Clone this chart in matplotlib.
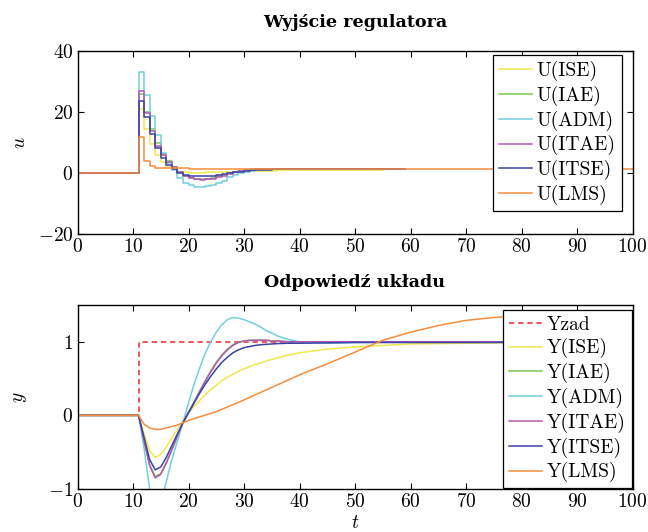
import matplotlib
matplotlib.use("Agg")
import matplotlib.pyplot as plt

plt.rcParams['font.family'] = ['serif']
plt.rcParams['font.serif'] = ['cmr10', 'DejaVu Serif']
plt.rcParams['mathtext.fontset'] = 'cm'
plt.rcParams['axes.formatter.use_mathtext'] = True
plt.rcParams['axes.unicode_minus'] = True

# ---------------- data: controller output (sampled, Ts = 1) ----------------
t_u = [0, 11, 12, 13, 14, 15, 16, 17, 18, 19, 20, 21, 22, 23, 24, 25, 26, 27,
       28, 29, 30, 31, 32, 33, 34, 35, 36, 40, 45, 50, 55, 59]
u_ise = [0, 20.9, 14.5, 9.5, 5.8, 3.6, 2.2, 1.2, 0.5, 0.2, 0.1, 0.1, 0.1, 0.2, 0.2, 0.3,
         0.4, 0.5, 0.5, 0.6, 0.6, 0.7, 0.7, 0.8, 0.8, 0.8, 0.9, 0.9, 1.0, 1.1, 1.2, 1.2]
u_iae = [0, 26.0, 20.0, 14.5, 9.8, 6.4, 3.8, 1.9, 0.4, -0.8, -1.6, -2.0, -2.0, -1.9, -1.6, -1.1,
         -0.6, -0.1, 0.3, 0.7, 1.0, 1.2, 1.3, 1.4, 1.4, 1.3, 1.3, 1.3, 1.3, 1.3, 1.3, 1.3]
u_adm = [0, 33.0, 25.5, 18.7, 12.4, 6.5, 3.2, 1.0, -1.6, -3.2, -3.9, -4.5, -4.5, -4.3, -3.9, -3.4,
         -2.5, -1.4, -0.7, 0.1, 0.5, 0.8, 1.0, 1.1, 1.2, 1.2, 1.3, 1.3, 1.2, 1.2, 1.2, 1.2]
u_itae = [0, 26.8, 19.8, 13.8, 8.9, 5.8, 3.6, 2.0, 0.3, -0.9, -1.7, -2.1, -2.2, -2.1, -1.8, -1.3,
          -0.8, -0.3, 0.2, 0.6, 0.9, 1.1, 1.3, 1.4, 1.4, 1.4, 1.3, 1.3, 1.3, 1.3, 1.3, 1.3]
u_itse = [0, 23.6, 18.5, 12.7, 8.3, 5.0, 2.8, 1.2, 0.1, -0.5, -0.9, -1.1, -1.1, -1.0, -0.8, -0.6,
          -0.3, 0.0, 0.3, 0.5, 0.7, 0.9, 1.0, 1.1, 1.1, 1.2, 1.2, 1.2, 1.2, 1.2, 1.2, 1.2]
t_u_lms = [0, 11, 12, 13, 14, 15, 20, 100]
u_lms = [0, 11.9, 3.9, 2.3, 1.8, 1.6, 1.4, 1.4]

# ---------------- data: system response ----------------
t_y = [0, 11, 12, 13, 14, 15, 16, 17, 18, 19, 20, 21, 22, 23, 24, 25, 26, 27, 28, 29,
       30, 31, 32, 33, 34, 35, 36, 38, 40, 45, 50, 60, 70, 80, 100]
y_ise = [0, 0, -0.25, -0.48, -0.57, -0.53, -0.43, -0.31, -0.19, -0.08, 0.03, 0.12, 0.20, 0.28,
         0.35, 0.41, 0.47, 0.52, 0.56, 0.60, 0.63, 0.66, 0.69, 0.71, 0.74, 0.76, 0.78, 0.82,
         0.85, 0.90, 0.93, 0.97, 0.98, 0.99, 1.0]
y_iae = [0, 0, -0.35, -0.67, -0.83, -0.79, -0.64, -0.46, -0.28, -0.10, 0.04, 0.18, 0.33, 0.47,
         0.60, 0.72, 0.82, 0.90, 0.96, 0.995, 1.01, 1.02, 1.02, 1.02, 1.02, 1.01, 1.01, 1.0,
         1.0, 1.0, 1.0, 1.0, 1.0, 1.0, 1.0]
y_adm = [0, 0, -0.45, -1.0, -1.3, -1.2, -0.9, -0.6, -0.35, -0.1, 0.17, 0.42, 0.64, 0.84,
         1.0, 1.13, 1.23, 1.30, 1.33, 1.32, 1.30, 1.27, 1.24, 1.20, 1.15, 1.12, 1.08, 1.03,
         1.0, 0.98, 0.99, 1.0, 1.0, 1.0, 1.0]
y_itae = [0, 0, -0.35, -0.68, -0.85, -0.80, -0.65, -0.47, -0.28, -0.10, 0.03, 0.17, 0.32, 0.46,
          0.59, 0.71, 0.81, 0.89, 0.95, 0.99, 1.01, 1.02, 1.02, 1.02, 1.02, 1.01, 1.01, 1.0,
          1.0, 1.0, 1.0, 1.0, 1.0, 1.0, 1.0]
y_itse = [0, 0, -0.30, -0.60, -0.74, -0.70, -0.57, -0.41, -0.25, -0.10, 0.04, 0.17, 0.30, 0.42,
          0.53, 0.63, 0.72, 0.79, 0.85, 0.89, 0.92, 0.935, 0.95, 0.96, 0.965, 0.97, 0.975, 0.98,
          0.98, 0.985, 0.99, 0.99, 0.99, 0.99, 0.99]
t_y_lms = [0, 11, 12, 13, 14, 15, 16, 18, 20, 22, 25, 30, 35, 40, 45, 50, 55, 60, 65, 70,
           75, 80, 85, 90, 95, 100]
y_lms = [0, 0, -0.12, -0.17, -0.19, -0.19, -0.17, -0.13, -0.07, -0.02, 0.05, 0.21, 0.38, 0.55,
         0.70, 0.86, 1.02, 1.13, 1.22, 1.29, 1.33, 1.35, 1.35, 1.33, 1.30, 1.26]
t_zad = [0, 11, 11, 100]
y_zad = [0, 0, 1, 1]

labels = ['ISE', 'IAE', 'ADM', 'ITAE', 'ITSE', 'LMS']
colors = ['#efe84a', '#7ac84e', '#72cfdc', '#b158b4', '#3b43a6', '#f58d3c']

fig = plt.figure(figsize=(6.48, 5.32), dpi=100)
ax1 = fig.add_axes([0.1196, 0.560, 0.8565, 0.344])
ax2 = fig.add_axes([0.1196, 0.0808, 0.8565, 0.346])

lw = 1.1
u_series = [u_ise, u_iae, u_adm, u_itae, u_itse]
for vals, lab, col in zip(u_series, labels[:5], colors[:5]):
    ax1.plot(t_u, vals, drawstyle='steps-post', color=col, lw=lw, label=f'U({lab})')
ax1.plot(t_u_lms, u_lms, drawstyle='steps-post', color=colors[5], lw=lw, label='U(LMS)')

ax2.plot(t_zad, y_zad, color='#e8282e', lw=1.1, ls=(0, (3.5, 2.5)), label='Yzad')
y_series = [y_ise, y_iae, y_adm, y_itae, y_itse]
for vals, lab, col in zip(y_series, labels[:5], colors[:5]):
    ax2.plot(t_y, vals, color=col, lw=lw, label=f'Y({lab})')
ax2.plot(t_y_lms, y_lms, color=colors[5], lw=lw, label='Y(LMS)')

fs = 14
for ax in (ax1, ax2):
    ax.set_xlim(0, 100)
    ax.set_xticks(range(0, 101, 10))
    ax.tick_params(direction='in', top=True, right=True, length=4.5, width=0.8,
                   labelsize=fs, pad=3)
    for sp in ax.spines.values():
        sp.set_linewidth(1.0)

ax1.set_ylim(-20, 40)
ax1.set_yticks([-20, 0, 20, 40])
ax2.set_ylim(-1, 1.5)
ax2.set_yticks([-1, 0, 1])

title_font = dict(family='DejaVu Serif', fontsize=12.6, fontweight='bold')
ax1.set_title('Wyjście regulatora', pad=17, **title_font)
ax2.set_title('Odpowiedź układu', pad=13, **title_font)

ax1.set_ylabel('$u$', fontsize=fs)
ax2.set_ylabel('$y$', fontsize=fs)
ax2.set_xlabel('$t$', fontsize=fs)
ax1.yaxis.set_label_coords(-0.088, 0.5)
ax2.yaxis.set_label_coords(-0.088, 0.5)
ax2.xaxis.set_label_coords(0.5, -0.135)

leg_kw = dict(fontsize=fs, frameon=True, fancybox=False, framealpha=1,
              edgecolor='black', handlelength=1.7, handletextpad=0.25,
              labelspacing=0.24, borderpad=0.3, borderaxespad=0)
l1 = ax1.legend(loc='upper right', bbox_to_anchor=(0.9805, 0.978), **leg_kw)
l2 = ax2.legend(loc='upper right', bbox_to_anchor=(0.9986, 0.973), **leg_kw)
for l in (l1, l2):
    l.get_frame().set_linewidth(0.9)

fig.savefig('out.png', dpi=100)
